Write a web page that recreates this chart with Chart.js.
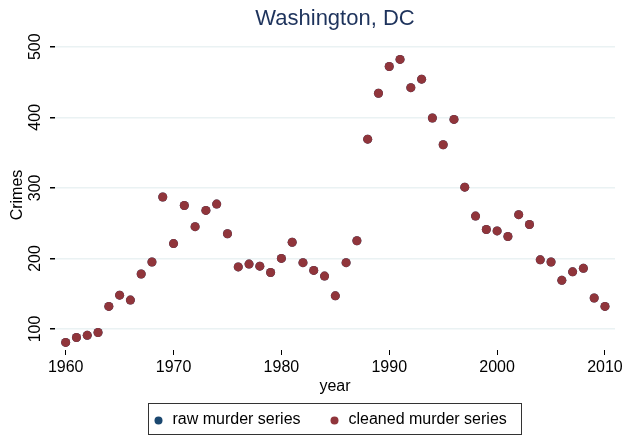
<!DOCTYPE html>
<html>
<head>
<meta charset="utf-8">
<script src="https://cdn.jsdelivr.net/npm/chart.js@4/dist/chart.umd.min.js"></script>
<style>
  html, body { margin: 0; padding: 0; background: #fff; }
  #wrap { width: 636px; height: 439px; }
</style>
</head>
<body>
<div id="wrap"><canvas id="chart" width="636" height="439"></canvas></div>
<script>
// Values
const years = [1960, 1961, 1962, 1963, 1964, 1965, 1966, 1967, 1968, 1969,
               1970, 1971, 1972, 1973, 1974, 1975, 1976, 1977, 1978, 1979,
               1980, 1981, 1982, 1983, 1984, 1985, 1986, 1987, 1988, 1989,
               1990, 1991, 1992, 1993, 1994, 1995, 1996, 1997, 1998, 1999,
               2000, 2001, 2002, 2003, 2004, 2005, 2006, 2007, 2008, 2009, 2010];
const rawMurders = [81, 88, 91, 95, 132, 148, 141, 178, 195, 287,
                    221, 275, 245, 268, 277, 235, 188, 192, 189, 180,
                    200, 223, 194, 183, 175, 147, 194, 225, 369, 434,
                    472, 482, 442, 454, 399, 361, 397, 301, 260, 241,
                    239, 231, 262, 248, 198, 195, 169, 181, 186, 144, 132];
// cleaned series sits exactly on top of the raw one
const cleanedMurders = [81, 88, 91, 95, 132, 148, 141, 178, 195, 287,
                        221, 275, 245, 268, 277, 235, 188, 192, 189, 180,
                        200, 223, 194, 183, 175, 147, 194, 225, 369, 434,
                        472, 482, 442, 454, 399, 361, 397, 301, 260, 241,
                        239, 231, 262, 248, 198, 195, 169, 181, 186, 144, 132];
const xTicks = [1960, 1970, 1980, 1990, 2000, 2010];
const yTicks = [100, 200, 300, 400, 500];
const seriesNames = ['raw murder series', 'cleaned murder series'];
const seriesColors = ['#1a476f', '#90353b'];

const FONT = '"Liberation Sans", Arial, Helvetica, sans-serif';

// Titles, rotated y labels and the boxed legend, Stata style
const stataDecor = {
    id: 'stataDecor',
    afterDraw(chart) {
        const ctx = chart.ctx;
        const area = chart.chartArea;
        const yScale = chart.scales.y;
        ctx.save();

        // title
        ctx.fillStyle = '#1e335c';
        ctx.font = '22px ' + FONT;
        ctx.textAlign = 'center';
        ctx.textBaseline = 'middle';
        ctx.fillText('Washington, DC', (area.left + area.right) / 2, 19);

        // y tick labels, rotated
        ctx.fillStyle = '#000';
        ctx.font = '16px ' + FONT;
        yTicks.forEach(v => {
            const py = yScale.getPixelForValue(v);
            ctx.save();
            ctx.translate(36, py);
            ctx.rotate(-Math.PI / 2);
            ctx.fillText(String(v), 0, 0);
            ctx.restore();
        });

        // y title
        ctx.save();
        ctx.translate(18, (area.top + area.bottom) / 2);
        ctx.rotate(-Math.PI / 2);
        ctx.fillText('Crimes', 0, 0);
        ctx.restore();

        // x title
        ctx.fillText('year', (area.left + area.right) / 2, 387);

        // legend box
        ctx.strokeStyle = '#333';
        ctx.lineWidth = 1;
        ctx.strokeRect(148.5, 403.5, 373, 31);
        const legendX = [158.5, 334.5];
        ctx.textAlign = 'left';
        seriesNames.forEach((name, i) => {
            ctx.fillStyle = seriesColors[i];
            ctx.beginPath();
            ctx.arc(legendX[i], 420.5, 4, 0, Math.PI * 2);
            ctx.fill();
            ctx.fillStyle = '#000';
            ctx.fillText(name, legendX[i] + 14, 420);
        });
        ctx.restore();
    }
};

const ctx = document.getElementById('chart').getContext('2d');
new Chart(ctx, {
    type: 'scatter',
    data: {
        datasets: [
            {
                label: seriesNames[0],
                data: years.map((y, i) => ({ x: y, y: rawMurders[i] })),
                backgroundColor: seriesColors[0],
                borderWidth: 0,
                pointRadius: 4.5,
                order: 1
            },
            {
                label: seriesNames[1],
                data: years.map((y, i) => ({ x: y, y: cleanedMurders[i] })),
                backgroundColor: seriesColors[1],
                borderWidth: 0,
                pointRadius: 4.5,
                order: 0
            }
        ]
    },
    options: {
        responsive: false,
        animation: false,
        events: [],
        layout: { padding: { top: 40, right: 21, left: 0, bottom: 0 } },
        plugins: {
            legend: { display: false },
            title: { display: false },
            tooltip: { enabled: false }
        },
        scales: {
            x: {
                type: 'linear',
                min: 1959.01,
                max: 2010.93,
                afterBuildTicks: axis => { axis.ticks = xTicks.map(v => ({ value: v })); },
                afterFit: axis => { axis.height = 89; },
                border: { display: false },
                grid: { drawOnChartArea: false, drawTicks: true, tickLength: 5, tickColor: '#000', lineWidth: 1 },
                ticks: {
                    color: '#000',
                    font: { family: FONT, size: 16 },
                    padding: 3,
                    maxRotation: 0,
                    callback: v => String(v)
                }
            },
            y: {
                min: 70.25,
                max: 509.5,
                afterBuildTicks: axis => { axis.ticks = yTicks.map(v => ({ value: v })); },
                afterFit: axis => { axis.width = 55; },
                border: { display: false },
                grid: { color: '#eaf2f3', lineWidth: 1.5, drawTicks: true, tickLength: 5, tickColor: '#000' },
                ticks: { display: false }
            }
        }
    },
    plugins: [stataDecor]
});
</script>
</body>
</html>
